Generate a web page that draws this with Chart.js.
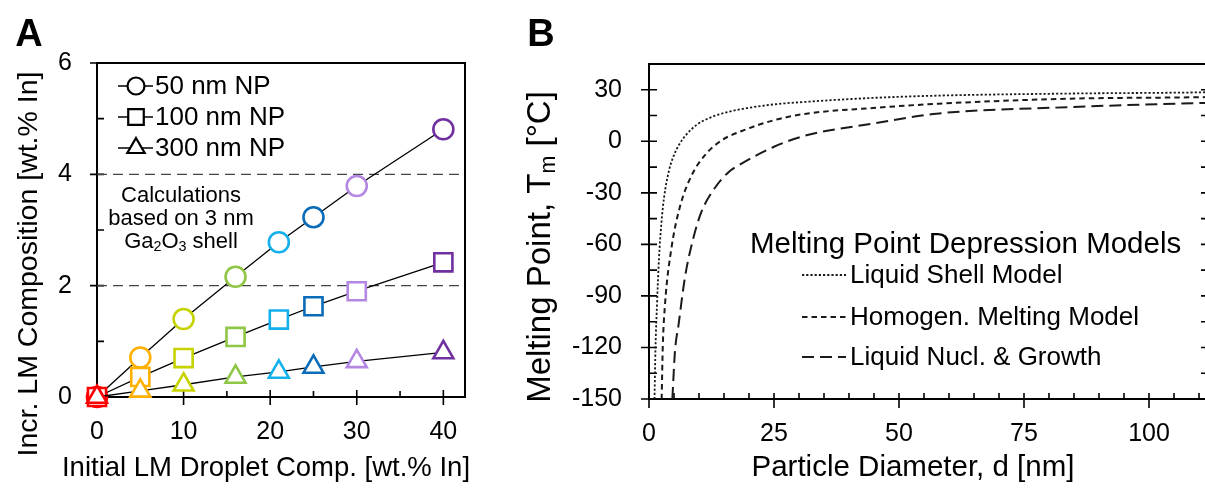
<!DOCTYPE html>
<html><head><meta charset="utf-8">
<script src="https://cdn.jsdelivr.net/npm/chart.js@4.4.1/dist/chart.umd.min.js"></script>
<style>
html,body{margin:0;padding:0;background:#fff;overflow:hidden;width:1205px;height:490px;}
#wrap{position:relative;width:1205px;height:490px;overflow:hidden;background:#fff;}
#cA{position:absolute;left:0;top:0;}
#cB{position:absolute;left:500px;top:0;}
</style></head><body>
<div id="wrap"><canvas id="cA" width="500" height="490"></canvas><canvas id="cB" width="730" height="490"></canvas></div>
<script>
const FONT = '"Liberation Sans", Arial, Helvetica, sans-serif';

// ---------- Panel A data ----------
const compX   = [0, 5, 10, 16, 21, 25, 30, 40];
const np50    = [0, 0.71, 1.40, 2.16, 2.78, 3.23, 3.79, 4.81];
const np100   = [0, 0.36, 0.70, 1.08, 1.39, 1.63, 1.90, 2.42];
const np300   = [0, 0.11, 0.22, 0.36, 0.45, 0.54, 0.64, 0.80];
const pointColors = ['#ff0000','#ffb000','#c6d300','#8fc645','#14b0ec','#0a6cb8','#b487e2','#7030a0'];
const seriesNames = ['50 nm NP', '100 nm NP', '300 nm NP'];
const refLevels = [2, 4];
const aXTicks = [0, 10, 20, 30, 40];
const aXMinor = [5, 15, 25, 35];
const aYTicks = [0, 2, 4, 6];
const aYMinor = [1, 3, 5];

// ---------- Panel B data ----------
const shellD = [1.1, 1.3, 1.6, 2.0, 2.5, 3.0, 4.0, 5.0, 6.0, 7.5, 9.5, 12, 15, 19, 25, 31.5, 45, 58, 84, 110.5, 112];
const shellT = [-150, -120, -95, -68, -47, -33, -17, -8, -2, 4, 9.5, 13.5, 16.5, 19, 21.5, 23, 25.3, 26.6, 27.8, 28.5, 28.6];
const homD = [2.53, 2.75, 3.2, 4.5, 6.2, 8.5, 11.2, 14.5, 19, 24.9, 31.5, 44.8, 58, 84, 110.5, 112];
const homT = [-150, -120, -95, -62, -38, -20, -8, 0.5, 6.5, 12.2, 16.1, 19.4, 21.9, 24.8, 25.7, 25.8];
const nucD = [4.67, 5.2, 5.9, 7.2, 8.9, 10.5, 13.2, 15.9, 18.5, 24.9, 31.5, 44.8, 57.5, 84, 110.5, 112];
const nucT = [-150, -122, -107, -79, -56, -41, -27, -18, -13, -3.3, 3.5, 10.3, 16.1, 19.9, 22.3, 22.4];
const modelNames = ['Liquid Shell Model', 'Homogen. Melting Model', 'Liquid Nucl. & Growth'];
const bXTicks = [0, 25, 50, 75, 100];
const bXMinor = [5,10,15,20,30,35,40,45,55,60,65,70,80,85,90,95,105,110];
const bYTicks = [-150, -120, -90, -60, -30, 0, 30];
const bYMinor = [-135, -105, -75, -45, -15, 15];

const A_XMAX = 42.5, B_XMAX = 112;
const dashes = [[2.2, 2], [5.5, 4], [12, 6]];

function richText(ctx, segs, x, y, size, align) {
  const subSize = size * 0.65;
  let w = 0;
  segs.forEach(s => { ctx.font = (s.sub ? subSize : size) + 'px ' + FONT; s.w = ctx.measureText(s.t).width; w += s.w; });
  let cx = align === 'center' ? x - w / 2 : (align === 'right' ? x - w : x);
  ctx.textAlign = 'left'; ctx.textBaseline = 'middle';
  segs.forEach(s => {
    ctx.font = (s.sub ? subSize : size) + 'px ' + FONT;
    ctx.fillText(s.t, cx, s.sub ? y + size * 0.25 : y);
    cx += s.w;
  });
}
function marker(ctx, style, x, y, r) {
  ctx.beginPath();
  if (style === 'circle') ctx.arc(x, y, r, 0, Math.PI * 2);
  else if (style === 'rect') { const h = r * Math.SQRT1_2; ctx.rect(x - h, y - h, 2 * h, 2 * h); }
  else { for (let i = 0; i < 3; i++) { const a = i * 2 * Math.PI / 3; const px = x + Math.sin(a) * r, py = y - Math.cos(a) * r; i ? ctx.lineTo(px, py) : ctx.moveTo(px, py); } ctx.closePath(); }
  ctx.fill(); ctx.stroke();
}
function drawTicks(ctx, a, xs, ys, spec) {
  ctx.beginPath();
  spec.xMaj.forEach(v => { const p = xs.getPixelForValue(v); ctx.moveTo(p, a.bottom - spec.xIn); ctx.lineTo(p, a.bottom + spec.xOut); });
  spec.xMin.forEach(v => { const p = xs.getPixelForValue(v); ctx.moveTo(p, a.bottom - spec.xMinLen); ctx.lineTo(p, a.bottom); });
  spec.yMaj.forEach(v => { const p = ys.getPixelForValue(v); ctx.moveTo(a.left - spec.yOut, p); ctx.lineTo(a.left + spec.yIn, p);
    if (spec.mirror) { ctx.moveTo(a.right - spec.yIn, p); ctx.lineTo(a.right, p); } });
  spec.yMin.forEach(v => { const p = ys.getPixelForValue(v); ctx.moveTo(a.left, p); ctx.lineTo(a.left + spec.yMinLen, p);
    if (spec.mirror) { ctx.moveTo(a.right - spec.yMinLen, p); ctx.lineTo(a.right, p); } });
  ctx.stroke();
}

// ---------- Panel A ----------
const styles = ['circle', 'rect', 'triangle'];
const radii = [10, 12.8, 11.5];
const seriesA = [np50, np100, np300];
const dsA = seriesA.map((vals, k) => ({
  label: seriesNames[k],
  data: compX.map((x, i) => ({ x: x, y: vals[i] })),
  borderColor: '#000', borderWidth: 1.3, tension: 0,
  pointStyle: styles[k], pointRadius: radii[k], pointBorderWidth: 2.6,
  pointBorderColor: pointColors, pointBackgroundColor: '#fff',
  clip: false, order: 3 - k
}));
refLevels.forEach(l => dsA.push({
  data: [{ x: 0, y: l }, { x: A_XMAX, y: l }], borderColor: '#444', borderWidth: 1.3,
  borderDash: [10, 6], pointRadius: 0, order: 10
}));

const panelA = {
  id: 'panelA',
  beforeDatasetsDraw(chart) {
    const { ctx, chartArea: a, scales: { x, y } } = chart;
    ctx.save();
    ctx.strokeStyle = '#000'; ctx.lineWidth = 2;
    ctx.strokeRect(a.left, a.top, a.right - a.left, a.bottom - a.top);
    ctx.lineWidth = 1.6;
    drawTicks(ctx, a, x, y, { xMaj: aXTicks, xMin: aXMinor, yMaj: aYTicks, yMin: aYMinor, xIn: 7, xOut: 8, xMinLen: 6, yIn: 7, yOut: 7, yMinLen: 7 });
    ctx.restore();
  },
  afterDraw(chart) {
    const { ctx } = chart;
    ctx.save();
    ctx.fillStyle = '#000';
    ctx.font = 'bold 38px ' + FONT; ctx.textAlign = 'center'; ctx.textBaseline = 'middle';
    ctx.fillText('A', 29, 36);
    // axis titles
    ctx.font = '27.5px ' + FONT;
    ctx.fillText('Initial LM Droplet Comp. [wt.% In]', 266, 468);
    ctx.save(); ctx.translate(29, 264); ctx.rotate(-Math.PI / 2);
    ctx.font = '28.5px ' + FONT;
    ctx.fillText('Incr. LM Composition [wt.% In]', 0, 0); ctx.restore();
    // legend
    const ly = [86, 117, 148];
    seriesNames.forEach((n, k) => {
      ctx.strokeStyle = '#000'; ctx.lineWidth = 1.3;
      ctx.beginPath(); ctx.moveTo(118, ly[k]); ctx.lineTo(153, ly[k]); ctx.stroke();
      ctx.fillStyle = '#fff'; ctx.lineWidth = 2.2;
      marker(ctx, styles[k], 136, ly[k], [8.5, 11, 10][k]);
      ctx.fillStyle = '#000'; ctx.font = '26px ' + FONT; ctx.textAlign = 'left'; ctx.textBaseline = 'middle';
      ctx.fillText(n, 155, ly[k] + 1);
    });
    // note
    ctx.font = '22px ' + FONT; ctx.textAlign = 'center';
    ctx.fillText('Calculations', 181, 196);
    ctx.fillText('based on 3 nm', 181, 219);
    richText(ctx, [{ t: 'Ga' }, { t: '2', sub: true }, { t: 'O' }, { t: '3', sub: true }, { t: ' shell' }], 181, 242, 22, 'center');
    ctx.restore();
  }
};

new Chart(document.getElementById('cA'), {
  type: 'line',
  data: { datasets: dsA },
  options: {
    responsive: false, animation: false, events: [],
    layout: { padding: { left: 0, top: 63, right: 35, bottom: 0 } },
    plugins: { legend: { display: false }, tooltip: { enabled: false } },
    scales: {
      x: { type: 'linear', min: 0, max: A_XMAX,
        grid: { display: false, drawTicks: false }, border: { display: false },
        afterFit(s) { s.height = 93; },
        afterBuildTicks(s) { s.ticks = aXTicks.map(v => ({ value: v })); },
        ticks: { font: { family: FONT, size: 25 }, color: '#000', padding: 20, maxRotation: 0, autoSkip: false } },
      y: { type: 'linear', min: 0, max: 6,
        grid: { display: false, drawTicks: false }, border: { display: false },
        afterFit(s) { s.width = 97; },
        afterBuildTicks(s) { s.ticks = aYTicks.map(v => ({ value: v })); },
        ticks: { font: { family: FONT, size: 25 }, color: '#000', padding: 25, autoSkip: false } }
    }
  },
  plugins: [panelA]
});

// ---------- Panel B ----------
const curves = [[shellD, shellT], [homD, homT], [nucD, nucT]];
const dsB = curves.map((c, k) => ({
  label: modelNames[k],
  data: c[0].map((d, i) => ({ x: d, y: c[1][i] })),
  borderColor: '#1a1a1a', borderWidth: k === 0 ? 1.8 : 2, borderDash: dashes[k],
  pointRadius: 0, cubicInterpolationMode: 'monotone'
}));

const panelB = {
  id: 'panelB',
  beforeDatasetsDraw(chart) {
    const { ctx, chartArea: a, scales: { x, y } } = chart;
    ctx.save();
    ctx.strokeStyle = '#000'; ctx.lineWidth = 2;
    ctx.strokeRect(a.left, a.top, a.right - a.left, a.bottom - a.top);
    ctx.lineWidth = 1.6;
    drawTicks(ctx, a, x, y, { xMaj: bXTicks, xMin: bXMinor, yMaj: bYTicks, yMin: bYMinor, xIn: 6, xOut: 9, xMinLen: 6, yIn: 8, yOut: 8, yMinLen: 8, mirror: true });
    ctx.restore();
  },
  afterDraw(chart) {
    const { ctx } = chart;
    const o = 500;
    ctx.save();
    ctx.fillStyle = '#000';
    ctx.font = 'bold 38px ' + FONT; ctx.textAlign = 'center'; ctx.textBaseline = 'middle';
    ctx.fillText('B', 541 - o, 36);
    ctx.font = '29.5px ' + FONT;
    ctx.fillText('Particle Diameter, d [nm]', 913 - o, 468);
    ctx.save(); ctx.translate(541 - o, 247); ctx.rotate(-Math.PI / 2);
    richText(ctx, [{ t: 'Melting Point, T' }, { t: 'm', sub: true }, { t: ' [°C]' }], 0, 0, 33, 'center');
    ctx.restore();
    // legend
    ctx.fillStyle = '#000'; ctx.font = '29.5px ' + FONT; ctx.textAlign = 'left'; ctx.textBaseline = 'middle';
    ctx.fillText('Melting Point Depression Models', 750 - o, 245);
    const ly = [275, 317, 357];
    modelNames.forEach((n, k) => {
      ctx.strokeStyle = '#1a1a1a'; ctx.lineWidth = k === 0 ? 1.8 : 2; ctx.setLineDash(dashes[k]);
      ctx.beginPath(); ctx.moveTo(802 - o, ly[k]); ctx.lineTo(846 - o, ly[k]); ctx.stroke();
      ctx.setLineDash([]);
      ctx.font = '26px ' + FONT;
      ctx.fillText(n, 850 - o, ly[k] + 1);
    });
    ctx.restore();
  }
};

new Chart(document.getElementById('cB'), {
  type: 'line',
  data: { datasets: dsB },
  options: {
    responsive: false, animation: false, events: [],
    layout: { padding: { left: 0, top: 64, right: 21, bottom: 0 } },
    plugins: { legend: { display: false }, tooltip: { enabled: false } },
    scales: {
      x: { type: 'linear', min: 0, max: B_XMAX,
        grid: { display: false, drawTicks: false }, border: { display: false },
        afterFit(s) { s.height = 91; },
        afterBuildTicks(s) { s.ticks = bXTicks.map(v => ({ value: v })); },
        ticks: { font: { family: FONT, size: 25 }, color: '#000', padding: 20, maxRotation: 0, autoSkip: false } },
      y: { type: 'linear', min: -150, max: 45,
        grid: { display: false, drawTicks: false }, border: { display: false },
        afterFit(s) { s.width = 149; },
        afterBuildTicks(s) { s.ticks = bYTicks.map(v => ({ value: v })); },
        ticks: { font: { family: FONT, size: 25 }, color: '#000', padding: 27, autoSkip: false } }
    }
  },
  plugins: [panelB]
});
</script>
</body></html>
